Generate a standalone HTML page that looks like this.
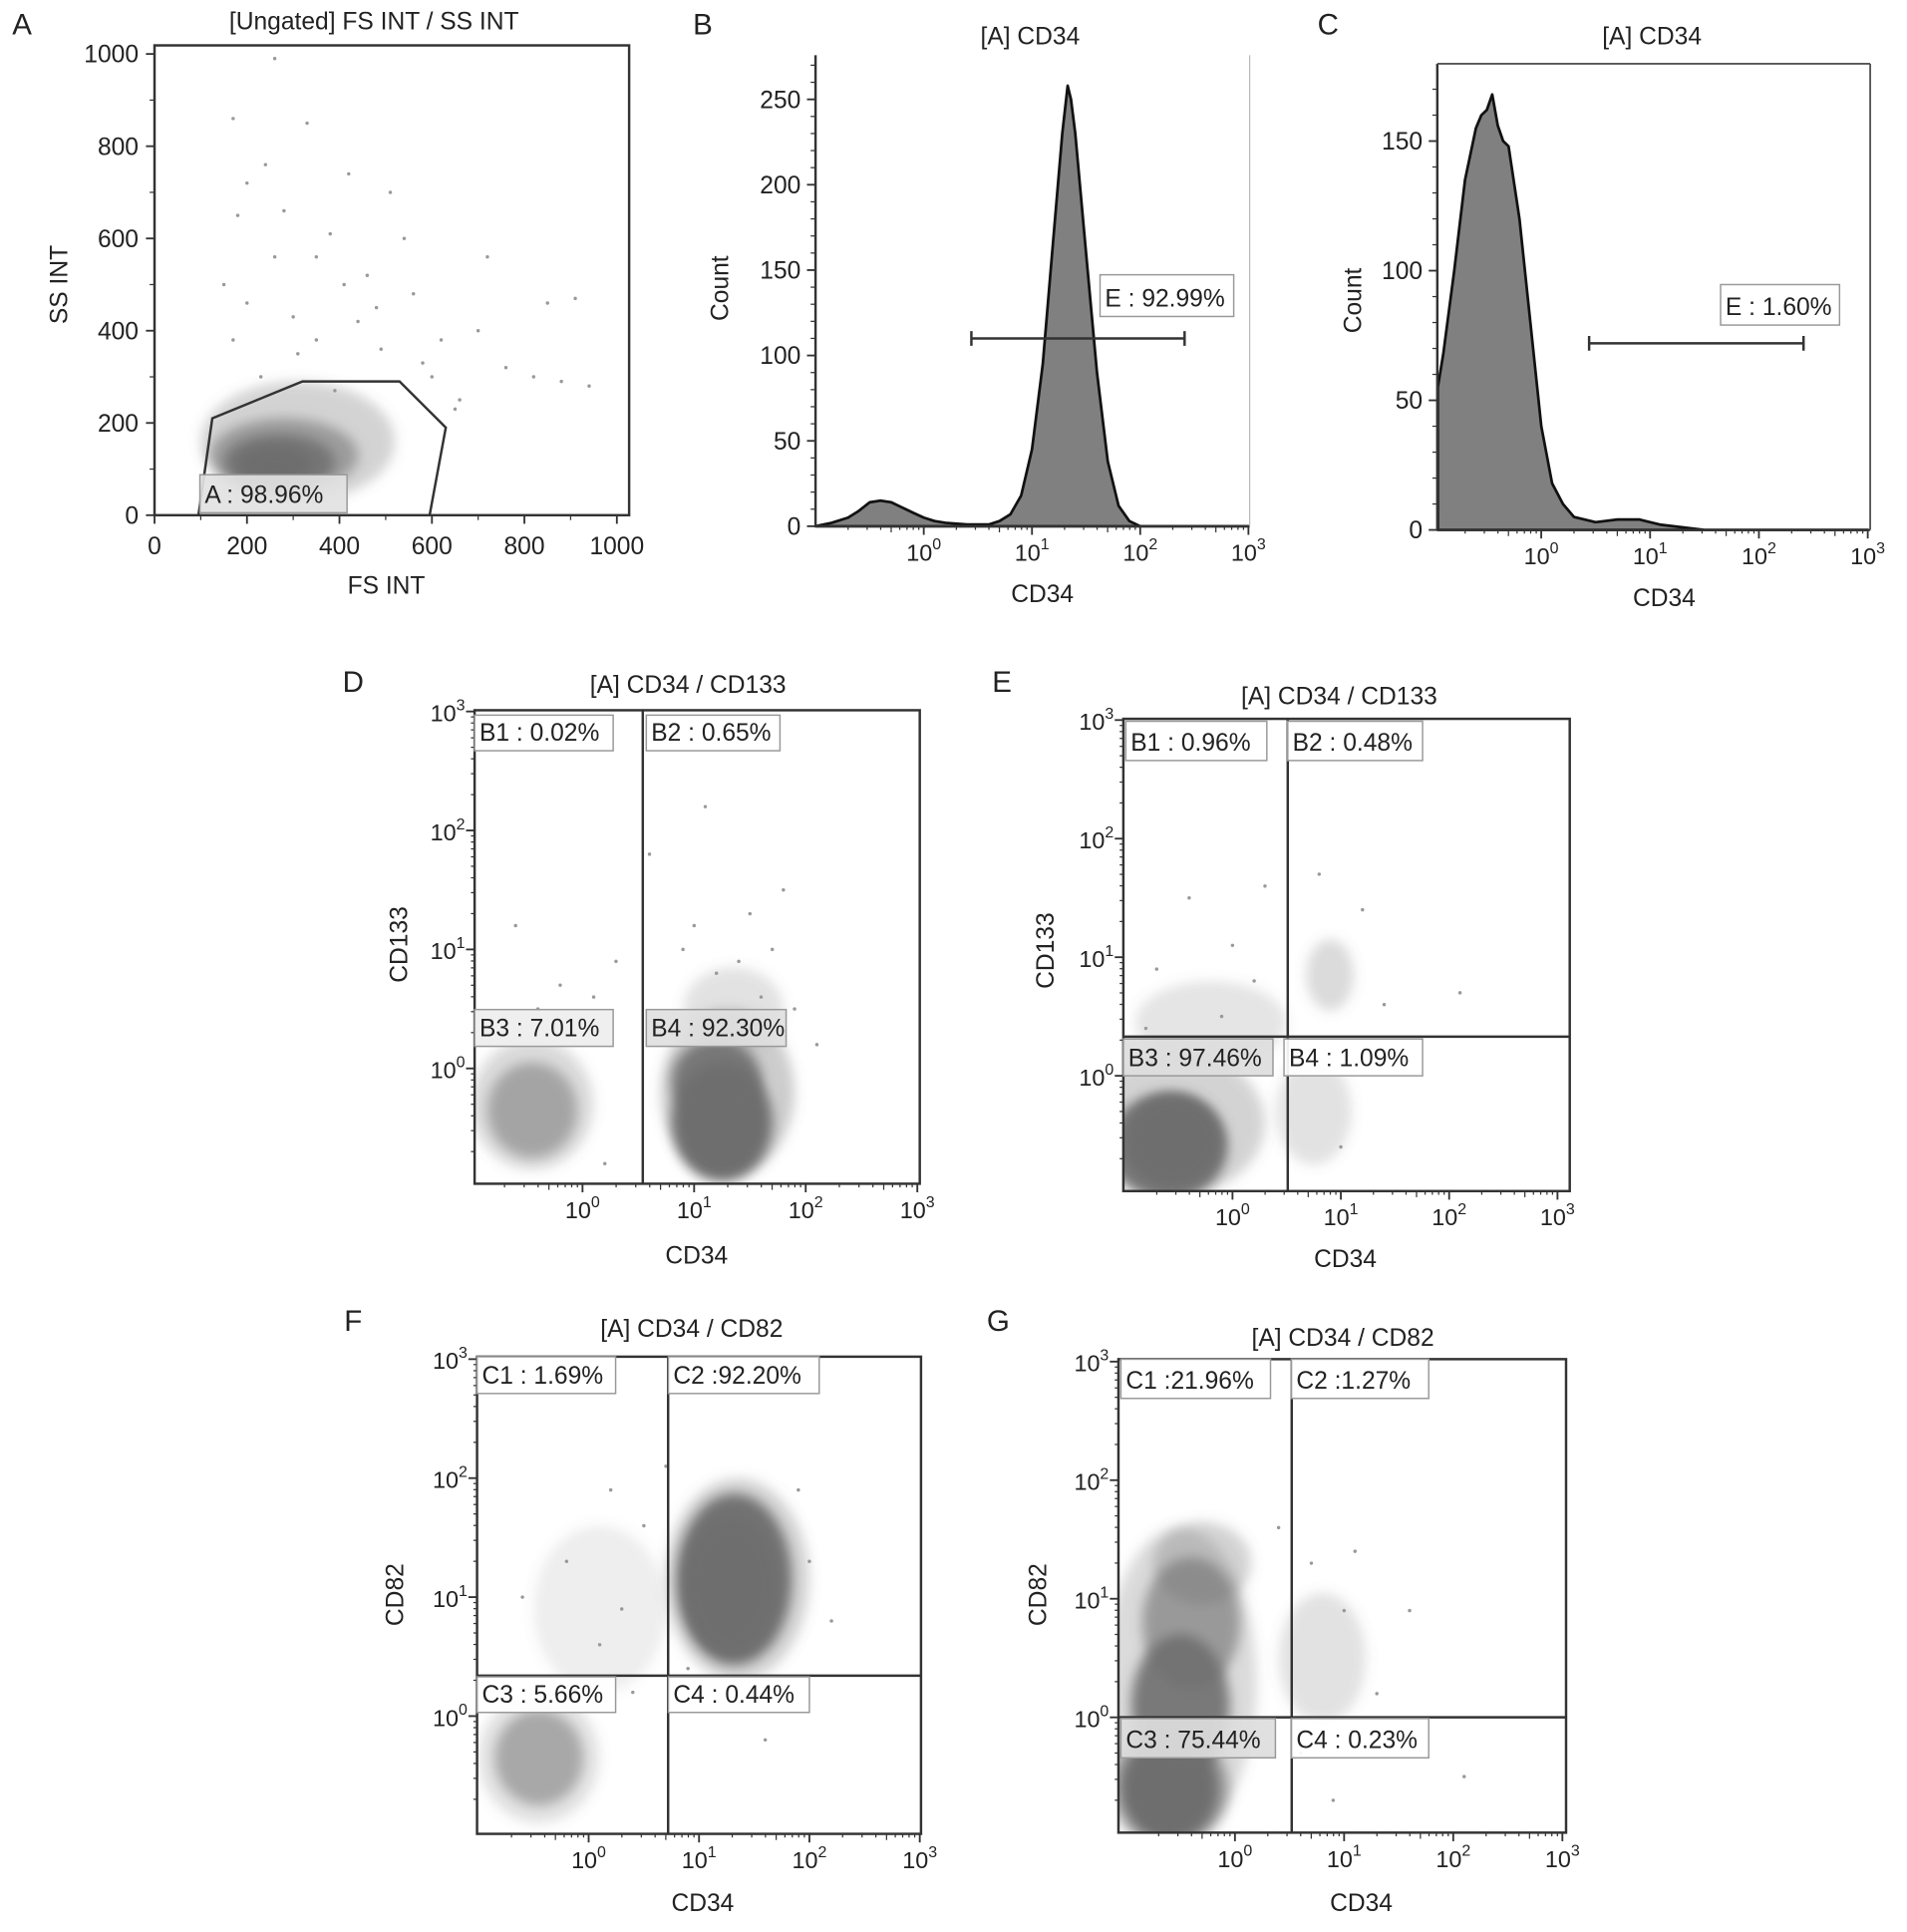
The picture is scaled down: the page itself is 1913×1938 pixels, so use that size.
<!DOCTYPE html>
<html><head><meta charset="utf-8"><style>
html,body{margin:0;padding:0;background:#fff;}
svg{display:block;font-family:"Liberation Sans",Arial,sans-serif;}
</style></head><body>
<svg id="fig" width="1913" height="1938" viewBox="0 0 1555 1575" preserveAspectRatio="none" xmlns="http://www.w3.org/2000/svg">
<defs>
<filter id="blur" x="-50%" y="-50%" width="200%" height="200%"><feGaussianBlur stdDeviation="5"/></filter>
</defs>
</svg>
<script>
// ---------- DATA ----------
const gateA_fs=[95,125,320,530,630,595];
const gateA_ss=[0,210,290,290,190,0];
const A_cluster_x=[310,280,270,260];
const A_cluster_y=[160,130,115,110];
const A_cluster_sx=[210,160,120,80];
const A_cluster_sy=[130,80,60,40];
const A_cluster_op=[0.3,0.55,0.85,0.95];
const A_pts_x=[170,240,330,420,510,180,260,380,460,560,200,300,350,440,620,700,760,820,880,940,150,230,390,490,580,660,720,850,910,260,200,280,350,410,480,540,170,310,600,650];
const A_pts_y=[860,760,850,740,700,650,560,610,520,480,460,430,380,420,380,400,320,300,290,280,500,300,270,360,330,250,560,460,470,990,720,660,560,500,450,600,380,350,300,230];

const histB_logx=[-1.0,-0.85,-0.7,-0.6,-0.5,-0.4,-0.3,-0.2,-0.1,0.0,0.1,0.2,0.4,0.6,0.7,0.8,0.9,1.0,1.1,1.2,1.28,1.33,1.36,1.4,1.45,1.5,1.6,1.7,1.8,1.9,2.0,3.0];
const histB_count=[0,2,5,9,14,15,14,11,8,5,3,2,1,1,3,7,18,45,95,170,230,258,250,230,195,160,90,38,12,3,0,0];
const histC_logx=[-0.95,-0.9,-0.8,-0.7,-0.6,-0.55,-0.5,-0.45,-0.4,-0.35,-0.3,-0.2,-0.1,0.0,0.1,0.2,0.3,0.5,0.7,0.9,1.1,1.3,1.5,3.0];
const histC_count=[55,68,100,135,155,160,162,168,156,150,148,120,80,40,18,10,5,3,4,4,2,1,0,0];
const gateB=[0.44,2.41,110];
const gateC=[0.44,2.41,72];

const D_cluster_x=[-0.45,-0.45,1.3,1.25,1.2,1.35];
const D_cluster_y=[-0.3,-0.35,-0.2,-0.45,-0.1,0.5];
const D_cluster_sx=[0.55,0.4,0.6,0.45,0.4,0.45];
const D_cluster_sy=[0.55,0.4,0.7,0.5,0.35,0.35];
const D_cluster_op=[0.25,0.5,0.35,1,0.9,0.2];
const D_pts_x=[-0.6,0.1,0.3,0.8,1.5,1.7,1.9,1.2,2.1,0.6,-0.2,1.6,1.8,1.1,0.9,1.4,1.0,-0.4,0.2];
const D_pts_y=[1.2,0.6,0.9,0.3,1.3,1.0,0.5,0.8,0.2,1.8,0.7,0.6,1.5,2.2,1.0,0.9,1.2,0.5,-0.8];
const D_q=[0.54,null];

const E_cluster_x=[-0.5,-0.6,-0.55,-0.2,0.75,0.9];
const E_cluster_y=[-0.4,-0.6,-0.55,0.45,-0.3,0.85];
const E_cluster_sx=[0.8,0.55,0.45,0.7,0.35,0.22];
const E_cluster_sy=[0.6,0.45,0.4,0.35,0.45,0.3];
const E_cluster_op=[0.3,0.9,1,0.18,0.2,0.25];
const E_pts_x=[-0.4,0.0,0.3,-0.7,1.2,1.4,0.8,2.1,0.2,-0.1,0.6,1.0,-0.8];
const E_pts_y=[1.5,1.1,1.6,0.9,1.4,0.6,1.7,0.7,0.8,0.5,0.2,-0.6,0.4];
const E_q=[0.51,0.33];

const F_cluster_x=[-0.45,-0.45,1.35,1.32,1.28,0.1];
const F_cluster_y=[-0.35,-0.35,1.15,1.15,1.1,0.9];
const F_cluster_sx=[0.55,0.4,0.65,0.52,0.42,0.6];
const F_cluster_sy=[0.55,0.4,0.85,0.72,0.58,0.7];
const F_cluster_op=[0.2,0.5,0.3,0.95,1,0.12];
const F_pts_x=[0.2,0.5,-0.2,0.7,0.1,2.0,2.2,0.9,1.6,0.4,-0.6,0.3,1.9];
const F_pts_y=[1.9,1.6,1.3,2.1,0.6,1.3,0.8,0.4,-0.2,0.2,1.0,0.9,1.9];
const F_q=[0.72,0.34];

const G_cluster_x=[-0.6,-0.6,-0.5,-0.4,-0.3,0.8,-0.5];
const G_cluster_y=[-0.6,-0.6,0.1,0.8,1.3,0.5,0.3];
const G_cluster_sx=[0.55,0.45,0.45,0.45,0.45,0.4,0.7];
const G_cluster_sy=[0.5,0.45,0.6,0.55,0.35,0.55,1.3];
const G_cluster_op=[0.5,1,0.9,0.6,0.3,0.2,0.25];
const G_pts_x=[0.7,1.0,1.1,0.6,1.6,2.1,0.9,1.3,0.4,0.2];
const G_pts_y=[1.3,0.9,1.4,-0.3,0.9,-0.5,-0.7,0.2,1.6,-0.2];
const G_q=[0.52,0.0];

const logTicks=[0,1,2,3];
const linTicks=[0,200,400,600,800,1000];
const histBTicks=[0,50,100,150,200,250];
const histCTicks=[0,50,100,150];

// ---------- HELPERS ----------
const NS='http://www.w3.org/2000/svg';
const svg=document.getElementById('fig');
function el(tag,attrs,parent){const e=document.createElementNS(NS,tag);for(const k in attrs)e.setAttribute(k,attrs[k]);(parent||svg).appendChild(e);return e;}
function lin(d0,d1,p0,p1){return v=>p0+(v-d0)/(d1-d0)*(p1-p0);}
function txt(x,y,s,size,anchor,parent,name){const t=el('text',{x:x,y:y,'font-size':size,'text-anchor':anchor||'middle',fill:'#222'},parent);t.textContent=s;


return t;}
function pow10(x,y,e,parent){const t=el('text',{x:x,y:y,'font-size':19,'text-anchor':'middle',fill:'#222'},parent);


const a=el('tspan',{},t);a.textContent='10';const b=el('tspan',{dy:-9,'font-size':13},t);b.textContent=String(e);return t;}
function rotLabel(x,y,s,parent){const t=txt(x,y,s,20,'middle',parent,'y-axis-title');t.setAttribute('transform','rotate(-90 '+x+' '+y+')');return t;}
function gateLabel(x0,x1,y0,y1,s,fill,parent){const g=el('g',{},parent);


el('rect',{x:x0,y:y0,width:x1-x0,height:y1-y0,fill:fill||'#fff','fill-opacity':0.92,stroke:'#999','stroke-width':1.2},g);
txt(x0+4,y1-8,s,20,'start',g,'gate-percent');}
function logXTicks(p,sx,y,parent){for(let d=-1;d<3;d++){for(let m=2;m<=9;m++){const lx=d+Math.log10(m);if(lx<p.dx0)continue;el('line',{x1:sx(lx),x2:sx(lx),y1:y,y2:y+(m==5?5:3),stroke:'#333','stroke-width':1},parent);}}
logTicks.forEach(k=>{el('line',{x1:sx(k),x2:sx(k),y1:y,y2:y+7,stroke:'#333','stroke-width':1.5},parent);pow10(sx(k),y+28,k,parent);});}
function logYTicks(p,sy,x,parent){for(let d=-1;d<3;d++){for(let m=2;m<=9;m++){const ly=d+Math.log10(m);if(ly<p.dy0)continue;el('line',{x1:x,x2:x-3,y1:sy(ly),y2:sy(ly),stroke:'#333','stroke-width':1},parent);}}
logTicks.forEach(k=>{el('line',{x1:x,x2:x-7,y1:sy(k),y2:sy(k),stroke:'#333','stroke-width':1.5},parent);pow10(x-22,sy(k)+8,k,parent);});}
function clusters(cx,cy,rx,ry,op,sx,sy,ux,uy,parent){for(let i=0;i<cx.length;i++){const e=el('ellipse',{cx:sx(cx[i]),cy:sy(cy[i]),rx:rx[i]*ux,ry:ry[i]*uy,fill:'#6e6e6e','fill-opacity':op[i],filter:'url(#blur)'},parent);

}}
function dots(px,py,sx,sy,parent){for(let i=0;i<px.length;i++){const c=el('circle',{cx:sx(px[i]),cy:sy(py[i]),r:1.4,fill:'#999'},parent);

}}

// ---------- PANEL A ----------
(function(){
const g=el('g',{});


const sx=lin(0,1000,126,503), sy=lin(0,1000,420,44);
const cp=el('clipPath',{id:'clipA'},g);el('rect',{x:126,y:37,width:387,height:383},cp);
const cg=el('g',{'clip-path':'url(#clipA)'},g);
clusters(A_cluster_x,A_cluster_y,A_cluster_sx,A_cluster_sy,A_cluster_op,sx,sy,0.377,0.376,cg);
dots(A_pts_x,A_pts_y,sx,sy,cg);
el('rect',{x:126,y:37,width:387,height:383,fill:'none',stroke:'#333','stroke-width':2},g);
let pts=gateA_fs.map((v,i)=>sx(v)+','+sy(gateA_ss[i])).join(' ');
const gp=el('polyline',{points:pts,fill:'none',stroke:'#333','stroke-width':2},g);


linTicks.forEach(v=>{el('line',{x1:sx(v),x2:sx(v),y1:420,y2:427,stroke:'#333','stroke-width':1.5},g);txt(sx(v),452,String(v),20,'middle',g,'x-tick-label');
el('line',{x1:126,x2:119,y1:sy(v),y2:sy(v),stroke:'#333','stroke-width':1.5},g);txt(113,sy(v)+7,String(v),20,'end',g,'y-tick-label');});
for(let v=100;v<1000;v+=200){el('line',{x1:sx(v),x2:sx(v),y1:420,y2:424,stroke:'#333'},g);el('line',{x1:126,x2:122,y1:sy(v),y2:sy(v),stroke:'#333'},g);}
gateLabel(163,283,387,418,'A : 98.96%','#e2e2e2',g);
txt(305,24,'[Ungated] FS INT / SS INT',20,'middle',g,'chart-title');
txt(18,28,'A',24,'middle',g,'panel-letter');
rotLabel(55,232,'SS INT',g);
txt(315,484,'FS INT',20,'middle',g,'x-axis-title');
})();

// ---------- HISTOGRAMS ----------
function hist(p,lx,cnt,gate,ticks,letter,label,name){
const g=el('g',{});


const sx=lin(-1,3,p.x0,p.x3), sy=lin(0,p.ymaxv,p.yb,p.ymaxp);
let d='M'+sx(Math.max(lx[0],p.dx0))+','+p.yb;
lx.forEach((v,i)=>{d+=' L'+sx(Math.max(v,p.dx0)).toFixed(1)+','+sy(cnt[i]).toFixed(1);});
d+=' L'+sx(lx[lx.length-1])+','+p.yb+' Z';
const a=el('path',{d:d,fill:'#808080',stroke:'#111','stroke-width':2.2,'stroke-linejoin':'round'},g);


el('line',{x1:p.ax,x2:p.ax,y1:p.top,y2:p.yb,stroke:'#333','stroke-width':2},g);
el('line',{x1:p.ax,x2:p.right,y1:p.yb,y2:p.yb,stroke:'#333','stroke-width':2},g);
el('line',{x1:p.right,x2:p.right,y1:p.top,y2:p.yb,stroke:p.boxed?'#555':'#bbb','stroke-width':p.boxed?1.5:1},g);
if(p.boxed)el('line',{x1:p.ax,x2:p.right,y1:p.top,y2:p.top,stroke:'#555','stroke-width':1.5},g);
const p0={dx0:p.dx0};
logXTicks(p0,sx,p.yb,g);
for(let v=0;v<=p.ymaxv+20;v+=10){const yy=sy(v);if(yy<p.top)break;el('line',{x1:p.ax,x2:p.ax-(v%50==0?7:4),y1:yy,y2:yy,stroke:'#333','stroke-width':v%50==0?1.5:1},g);}
ticks.forEach(v=>txt(p.ax-12,sy(v)+7,String(v),20,'end',g,'y-tick-label'));
const gy=sy(gate[2]);
const gl=el('path',{d:'M'+sx(gate[0])+','+gy+' H'+sx(gate[1])+' M'+sx(gate[0])+','+(gy-6)+' V'+(gy+6)+' M'+sx(gate[1])+','+(gy-6)+' V'+(gy+6),stroke:'#333','stroke-width':2,fill:'none'},g);


gateLabel(p.lb[0],p.lb[1],p.lb[2],p.lb[3],label,'#fff',g);
txt(p.tx,36,'[A] CD34',20,'middle',g,'chart-title');
txt(p.lx,28,letter,24,'middle',g,'panel-letter');
rotLabel(p.cx,p.cy,'Count',g);
txt(p.tx+10,p.yb+62,'CD34',20,'middle',g,'x-axis-title');
}
hist({x0:665,x3:1018,yb:429,ymaxv:250,ymaxp:81,ax:665,right:1019,top:45,dx0:-1,boxed:false,lb:[897,1006,224,258],tx:840,lx:573,cx:594,cy:235},histB_logx,histB_count,gateB,histBTicks,'B','E : 92.99%','panel-b-histogram');
hist({x0:1168,x3:1523,yb:432,ymaxv:150,ymaxp:115,ax:1172,right:1525,top:52,dx0:-0.95,boxed:true,lb:[1403,1500,232,265],tx:1347,lx:1083,cx:1110,cy:245},histC_logx,histC_count,gateC,histCTicks,'C','E : 1.60%','panel-c-histogram');

// ---------- DOT PLOTS ----------
function dotplot(p,cl,pts,q,labels,name){
const g=el('g',{});


const sx=lin(0,3,p.x0,p.x3), sy=lin(0,3,p.y0,p.y3);
const id='clip'+name;const cp=el('clipPath',{id:id},g);el('rect',{x:p.l,y:p.t,width:p.r-p.l,height:p.b-p.t},cp);
const cg=el('g',{'clip-path':'url(#'+id+')'},g);
const ux=(p.x3-p.x0)/3, uy=(p.y0-p.y3)/3;
clusters(cl[0],cl[1],cl[2],cl[3],cl[4],sx,sy,ux,uy,cg);
dots(pts[0],pts[1],sx,sy,cg);
el('rect',{x:p.l,y:p.t,width:p.r-p.l,height:p.b-p.t,fill:'none',stroke:'#333','stroke-width':2},g);
const vq=el('line',{x1:sx(q[0]),x2:sx(q[0]),y1:p.t,y2:p.b,stroke:'#333','stroke-width':2},g);


if(q[1]!==null){const hq=el('line',{x1:p.l,x2:p.r,y1:sy(q[1]),y2:sy(q[1]),stroke:'#333','stroke-width':2},g);

}
const pp={dx0:-1,dy0:-1};
logXTicks(pp,sx,p.b,g);
logYTicks(pp,sy,p.l,g);
labels.forEach(L=>gateLabel(L[0],L[1],L[2],L[3],L[4],L[5],g));
txt(p.tx,p.ty,p.title,20,'middle',g,'chart-title');
txt(p.lx,p.ly,p.letter,24,'middle',g,'panel-letter');
rotLabel(p.cx,p.cy,p.ylab,g);
txt(p.xx,p.xy,'CD34',20,'middle',g,'x-axis-title');
}
dotplot({x0:475,x3:748,y0:871,y3:580,l:387,r:750,t:579,b:965,title:'[A] CD34 / CD133',tx:561,ty:565,letter:'D',lx:288,ly:564,ylab:'CD133',cx:332,cy:770,xx:568,xy:1030},
[D_cluster_x,D_cluster_y,D_cluster_sx,D_cluster_sy,D_cluster_op],[D_pts_x,D_pts_y],D_q,
[[387,500,583,612,'B1 : 0.02%','#fff'],[527,636,583,612,'B2 : 0.65%','#fff'],[387,500,823,853,'B3 : 7.01%','#eee'],[527,641,823,853,'B4 : 92.30%','#e0e0e0']],'panel-d-dotplot');
dotplot({x0:1005,x3:1270,y0:877,y3:587,l:916,r:1280,t:586,b:971,title:'[A] CD34 / CD133',tx:1092,ty:574,letter:'E',lx:817,ly:564,ylab:'CD133',cx:859,cy:775,xx:1097,xy:1033},
[E_cluster_x,E_cluster_y,E_cluster_sx,E_cluster_sy,E_cluster_op],[E_pts_x,E_pts_y],E_q,
[[918,1033,588,620,'B1 : 0.96%','#fff'],[1050,1160,588,620,'B2 : 0.48%','#fff'],[916,1038,847,877,'B3 : 97.46%','#ddd'],[1047,1160,847,877,'B4 : 1.09%','#fff']],'panel-e-dotplot');
dotplot({x0:480,x3:750,y0:1399,y3:1108,l:389,r:751,t:1106,b:1495,title:'[A] CD34 / CD82',tx:564,ty:1090,letter:'F',lx:288,ly:1085,ylab:'CD82',cx:329,cy:1300,xx:573,xy:1558},
[F_cluster_x,F_cluster_y,F_cluster_sx,F_cluster_sy,F_cluster_op],[F_pts_x,F_pts_y],F_q,
[[389,502,1106,1136,'C1 : 1.69%','#fff'],[545,668,1106,1136,'C2 :92.20%','#fff'],[389,502,1367,1396,'C3 : 5.66%','#fff'],[545,660,1367,1396,'C4 : 0.44%','#fff']],'panel-f-dotplot');
dotplot({x0:1007,x3:1274,y0:1400,y3:1110,l:912,r:1277,t:1108,b:1494,title:'[A] CD34 / CD82',tx:1095,ty:1097,letter:'G',lx:814,ly:1085,ylab:'CD82',cx:853,cy:1300,xx:1110,xy:1558},
[G_cluster_x,G_cluster_y,G_cluster_sx,G_cluster_sy,G_cluster_op],[G_pts_x,G_pts_y],G_q,
[[914,1036,1108,1140,'C1 :21.96%','#fff'],[1053,1165,1108,1140,'C2 :1.27%','#fff'],[914,1040,1401,1433,'C3 : 75.44%','#ddd'],[1053,1165,1401,1433,'C4 : 0.23%','#fff']],'panel-g-dotplot');
</script>
</body></html>
